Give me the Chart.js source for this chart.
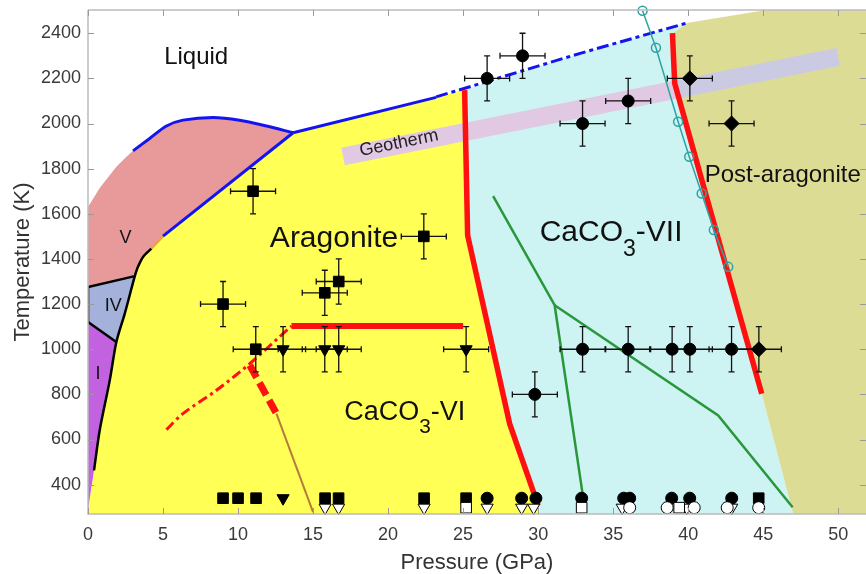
<!DOCTYPE html>
<html><head><meta charset="utf-8">
<script src="https://cdn.jsdelivr.net/npm/chart.js@4.4.1/dist/chart.umd.min.js"></script>
<style>html,body{margin:0;padding:0;background:#fff;overflow:hidden}</style>
</head><body>
<canvas id="c" width="866" height="574"></canvas>
<script>
// ---------- tick labels ----------
const xTickVals = [0,5,10,15,20,25,30,35,40,45,50];
const yTickVals = [400,600,800,1000,1200,1400,1600,1800,2000,2200,2400];

// ---------- phase fields [P (GPa), T (K)] ----------
const fieldAragonite = [[0,270],[0,290],[0.4,463],[0.78,641],[1.45,862],[1.89,1032],[2.45,1158],[2.9,1270],[3.12,1324],[3.33,1365],[3.67,1409],[4.22,1446],[5.0,1501],[13.67,1959],[25.1,2150],[25.3,1505],[28.1,670],[30.0,308],[30.15,270]];
const fieldVII = [[25.1,2150],[32.8,2311],[40.0,2447],[38.95,2400],[39.1,2178],[44.9,803],[47.0,270],[30.15,270],[30.0,308],[28.1,670],[25.3,1505]];
const fieldPost = [[38.95,2400],[40.0,2447],[45.2,2503],[51.85,2503],[51.85,270],[47.0,270],[44.9,803],[39.1,2178]];
const fieldV = [[0,1630],[0.78,1714],[1.89,1808],[2.56,1853],[3.0,1879],[4.11,1934],[5.23,1989],[6.33,2015],[8.33,2027],[10.1,2015],[11.9,1989],[13.67,1959],[5.0,1501],[4.22,1446],[3.67,1409],[3.33,1365],[3.12,1324],[0,1276]];
const fieldIV = [[0,1276],[3.12,1324],[2.9,1270],[2.45,1158],[1.89,1032],[0,1121]];
const fieldI = [[0,1121],[1.89,1032],[1.45,862],[0.78,641],[0.4,463],[0,290]];

// ---------- boundaries ----------
const meltCurveV = [[3.0,1879],[4.11,1934],[5.23,1989],[6.33,2015],[8.33,2027],[10.1,2015],[11.9,1989],[13.67,1959]];
const lineVArag = [[5.0,1501],[13.67,1959]];
const meltArag = [[13.67,1959],[23.2,2116]];
const meltDashed = [[23.2,2118],[32.8,2311],[40.0,2447]];
const calciteBoundary = [[0.4,463],[0.78,641],[1.45,862],[1.89,1032],[2.45,1158],[2.9,1270],[3.12,1324],[3.33,1365],[3.67,1409],[4.22,1446]];
const ivTop = [[0,1276],[3.12,1324]];
const ivBottom = [[0,1121],[1.89,1032]];
const ivLeft = [[0,1121],[0,1276]];
const orangeSeg = [[4.22,1446],[5.0,1501]];
const redAragVII = [[25.1,2148],[25.3,1505],[28.1,670],[30.0,308]];
const redVIIPost = [[38.95,2400],[39.1,2178],[44.9,803]];
const redVI = [[13.56,1103],[25.0,1103]];
const redDashDot = [[5.23,644],[6.33,715],[8.56,818],[10.78,936],[13.56,1103]];
const redThickDash = [[10.78,929],[12.56,715]];
const brownLine = [[12.56,715],[15.0,278]];
const greenA = [[27.0,1678],[31.1,1195],[32.96,360]];
const greenB = [[31.1,1195],[42.0,707],[46.96,300]];
const tealP = [36.96,37.85,39.33,40.07,40.9,41.71,42.67];
const tealT = [2500,2336,2008,1853,1690,1528,1365];
const geothermA = [[17.0,1854],[39.1,2149]];
const geothermB = [[39.1,2149],[50.0,2295]];

// ---------- experiments (with errors) ----------
const sqP = [11.0,9.0,11.18,22.38,15.78,16.71];
const sqT = [1700,1200,1000,1500,1250,1300];
const sqPerr = [1.5,1.5,1.5,1.5,1.5,1.5];
const sqTerr = [100,100,100,100,100,100];
const triP = [13.0,15.78,16.71,25.2];
const triT = [1000,1000,1000,1000];
const triPerr = [1.5,1.5,1.5,1.5];
const triTerr = [100,100,100,100];
const cirP = [26.6,28.96,32.96,36.0,29.78,32.96,36.0,38.93,40.11,42.89];
const cirT = [2200,2300,2000,2100,800,1000,1000,1000,1000,1000];
const cirPerr = [1.5,1.5,1.5,1.5,1.5,1.5,1.5,1.5,1.5,1.5];
const cirTerr = [100,100,100,100,100,100,100,100,100,100];
const diaP = [40.11,42.89,44.71];
const diaT = [2200,2000,1000];
const diaPerr = [1.5,1.5,1.5];
const diaTerr = [100,100,100];

// ---------- room-temperature runs (bottom row) ----------
const botSqP = [9.0,10.0,11.2,15.8,16.7,22.4,25.2,44.7];
const botTriP = [13.0];
const botCirP = [26.6,28.9,29.85,32.9,35.7,36.1,38.9,40.1,42.9];
const botFilledT = 340;
const openTriP = [15.8,16.7,22.4,26.6,28.9,29.7,35.6,39.9,42.9];
const openSqP = [25.2,32.9,39.4];
const openCirP = [36.1,38.6,40.4,42.6,44.7];
const botOpenT = 298;

// ================= build =================
const FONT = '"Liberation Sans", Arial, Helvetica, sans-serif';
Chart.defaults.font.family = FONT;
const pts = a => a.map(([x,y]) => ({x,y}));
const zip = (P,T) => P.map((p,i)=>({x:p,y:T[i]}));
const row = (P,t) => P.map(p=>({x:p,y:t}));
function poly(a,color,order){return {data:pts(a),showLine:true,fill:'shape',backgroundColor:color,borderColor:'transparent',borderWidth:0,pointRadius:0,order};}
function ln(a,color,w,order,extra){return Object.assign({data:pts(a),showLine:true,fill:false,borderColor:color,borderWidth:w,pointRadius:0,tension:0,order,borderCapStyle:'butt'},extra||{});}
function mk(data,style,r,bg,order,extra){return Object.assign({data,showLine:false,pointStyle:style,pointRadius:r,pointHoverRadius:r,backgroundColor:bg,borderColor:'#000',borderWidth:1,order,clip:false},extra||{});}

const datasets = [
  poly(fieldAragonite,'#ffff55',200),
  poly(fieldVII,'#cdf3f3',199),
  poly(fieldPost,'#dddc95',198),
  poly(fieldV,'#e89a9a',197),
  poly(fieldIV,'#a4b2db',196),
  poly(fieldI,'#c262e0',195),
  ln(geothermA,'#e1c8e3',18,150),
  ln(geothermB,'#cbcae3',18,149),
  ln(orangeSeg,'#f0a040',2.5,120),
  ln(meltCurveV,'#1414f0',3,110,{tension:0.3}),
  ln(lineVArag,'#1414f0',3,109),
  ln(meltArag,'#1414f0',3,108),
  ln(meltDashed,'#1414f0',3,107,{borderDash:[12,4,4,4]}),
  ln(calciteBoundary,'#000',2.5,106,{tension:0.3}),
  ln(ivTop,'#000',2.5,105),
  ln(ivBottom,'#000',2.5,104),
  ln(ivLeft,'#000',2.5,103),
  ln(brownLine,'#b87a3c',2,102),
  ln(greenA,'#28983a',2.5,101),
  ln(greenB,'#28983a',2.5,100),
  ln(redDashDot,'#ff1010',3,95,{borderDash:[10,4,3,4],tension:0.3}),
  ln(redThickDash,'#ff1010',7,94,{borderDash:[14,6]}),
  ln(redVI,'#ff1010',6,93),
  ln(redAragVII,'#ff1010',5.5,92),
  ln(redVIIPost,'#ff1010',5.5,91),
  {data:zip(tealP,tealT),showLine:true,fill:false,borderColor:'#2ea3a3',borderWidth:1.5,pointStyle:'circle',pointRadius:4.5,pointBackgroundColor:'rgba(0,0,0,0)',pointBorderColor:'#2ea3a3',pointBorderWidth:1.5,order:80,clip:false},
  mk(zip(sqP,sqT),'rect',7.5,'#000',60,{errX:sqPerr,errY:sqTerr}),
  mk(zip(triP,triT),'triangle',7,'#000',59,{rotation:180,errX:triPerr,errY:triTerr}),
  mk(zip(cirP,cirT),'circle',6,'#000',58,{errX:cirPerr,errY:cirTerr}),
  mk(zip(diaP,diaT),'rectRot',7.5,'#000',57,{errX:diaPerr,errY:diaTerr}),
  mk(row(botSqP,botFilledT),'rect',7.5,'#000',50),
  mk(row(botTriP,botFilledT),'triangle',7,'#000',49,{rotation:180}),
  mk(row(botCirP,botFilledT),'circle',6,'#000',48),
  mk(row(openTriP,botOpenT),'triangle',7,'#fff',40,{rotation:180}),
  mk(row(openSqP,botOpenT),'rect',7.5,'#fff',39),
  mk(row(openCirP,botOpenT),'circle',6,'#fff',38)
];

// error bars drawn right before their marker dataset
const errorBars = {
  id:'errorBars',
  beforeDatasetDraw(chart,args){
    const ds = chart.data.datasets[args.index];
    if(!ds.errX) return;
    const {ctx, scales:{x,y}} = chart;
    ctx.save();
    ctx.strokeStyle='#111'; ctx.lineWidth=1.3;
    ds.data.forEach((d,i)=>{
      const px=x.getPixelForValue(d.x), py=y.getPixelForValue(d.y);
      const x1=x.getPixelForValue(d.x-ds.errX[i]), x2=x.getPixelForValue(d.x+ds.errX[i]);
      const y1=y.getPixelForValue(d.y-ds.errY[i]), y2=y.getPixelForValue(d.y+ds.errY[i]);
      ctx.beginPath();
      ctx.moveTo(x1,py); ctx.lineTo(x2,py);
      ctx.moveTo(x1,py-3); ctx.lineTo(x1,py+3);
      ctx.moveTo(x2,py-3); ctx.lineTo(x2,py+3);
      ctx.moveTo(px,y1); ctx.lineTo(px,y2);
      ctx.moveTo(px-3,y1); ctx.lineTo(px+3,y1);
      ctx.moveTo(px-3,y2); ctx.lineTo(px+3,y2);
      ctx.stroke();
    });
    ctx.restore();
  }
};

// axes frame with inward ticks
const frame = {
  id:'frame',
  afterDatasetsDraw(chart){
    const {ctx, chartArea:a, scales:{x,y}} = chart;
    ctx.save();
    ctx.strokeStyle='#bcbcbc'; ctx.lineWidth=1.5;
    ctx.beginPath();
    ctx.moveTo(a.left,a.top); ctx.lineTo(a.right,a.top);
    ctx.moveTo(a.left,a.top); ctx.lineTo(a.left,a.bottom); ctx.lineTo(a.right,a.bottom);
    ctx.stroke();
    ctx.strokeStyle='#9a9a9a'; ctx.lineWidth=1;
    ctx.beginPath();
    xTickVals.forEach(v=>{const p=Math.round(x.getPixelForValue(v))+0.5;
      ctx.moveTo(p,a.bottom); ctx.lineTo(p,a.bottom-6);
      ctx.moveTo(p,a.top); ctx.lineTo(p,a.top+6);});
    yTickVals.forEach(v=>{const p=Math.round(y.getPixelForValue(v))+0.5;
      ctx.moveTo(a.left,p); ctx.lineTo(a.left+6,p);
      ctx.moveTo(a.right,p); ctx.lineTo(a.right-6,p);});
    ctx.stroke();
    ctx.restore();
  }
};

// text annotations (positions in data units)
const notes = [
  {parts:[['Liquid',1,0]], p:7.21, t:2262, size:24, align:'center'},
  {parts:[['V',1,0]], p:2.5, t:1471, size:18, align:'center'},
  {parts:[['IV',1,0]], p:1.68, t:1170, size:18, align:'center'},
  {parts:[['I',1,0]], p:0.67, t:870, size:18, align:'center'},
  {parts:[['Aragonite',1,0]], p:16.4, t:1453, size:30, align:'center'},
  {parts:[['Post-aragonite',1,0]], p:46.3, t:1742, size:24, align:'center'},
  {parts:[['CaCO',1,0],['3',0.77,0.5],['-VII',1,0]], p:30.1, t:1480, size:30, align:'left'},
  {parts:[['CaCO',1,0],['3',0.77,0.5],['-VI',1,0]], p:17.07, t:688, size:27, align:'left'}
];
const labels = {
  id:'labels',
  afterDatasetsDraw(chart){
    const {ctx, scales:{x,y}} = chart;
    ctx.save();
    ctx.fillStyle='#111'; ctx.textBaseline='alphabetic'; ctx.textAlign='left';
    notes.forEach(n=>{
      const widths=n.parts.map(([s,k])=>{ctx.font=`${n.size*k}px ${FONT}`;return ctx.measureText(s).width;});
      const total=widths.reduce((a,b)=>a+b,0);
      let cx=x.getPixelForValue(n.p); const cy=y.getPixelForValue(n.t);
      if(n.align==='center') cx-=total/2;
      n.parts.forEach(([s,k,dy],i)=>{ctx.font=`${n.size*k}px ${FONT}`;ctx.fillText(s,cx,cy+dy*n.size);cx+=widths[i];});
    });
    // Geotherm along the band
    const x1=x.getPixelForValue(geothermA[0][0]), y1=y.getPixelForValue(geothermA[0][1]);
    const x2=x.getPixelForValue(geothermB[1][0]), y2=y.getPixelForValue(geothermB[1][1]);
    const ang=Math.atan2(y2-y1,x2-x1);
    ctx.translate(x.getPixelForValue(20.73), y.getPixelForValue(1913));
    ctx.rotate(ang);
    ctx.font=`18px ${FONT}`; ctx.textAlign='center'; ctx.textBaseline='middle'; ctx.fillStyle='#222';
    ctx.fillText('Geotherm',0,0);
    ctx.restore();
  }
};

new Chart(document.getElementById('c'),{
  type:'scatter',
  data:{datasets},
  options:{
    responsive:false, animation:false, devicePixelRatio:1,
    layout:{autoPadding:false,padding:{top:10,right:0,bottom:0,left:0}},
    plugins:{legend:{display:false}, tooltip:{enabled:false}},
    scales:{
      x:{type:'linear',min:0,max:51.85,
        afterBuildTicks:s=>{s.ticks=xTickVals.map(v=>({value:v}));},
        ticks:{callback:v=>String(v),font:{size:18},color:'#3a3a3a',padding:10,maxRotation:0,autoSkip:false},
        grid:{display:false,drawTicks:false},border:{display:false},
        title:{display:true,text:'Pressure (GPa)',font:{size:22,lineHeight:1},color:'#333',padding:{top:0,bottom:0}},
        afterFit:s=>{s.height=60;s.paddingLeft=0;s.paddingRight=0;s.paddingTop=0;s.paddingBottom=0;}},
      y:{type:'linear',min:270,max:2503,
        afterBuildTicks:s=>{s.ticks=yTickVals.map(v=>({value:v}));},
        ticks:{callback:v=>String(v),font:{size:18},color:'#3a3a3a',padding:7,autoSkip:false},
        grid:{display:false,drawTicks:false},border:{display:false},
        title:{display:true,text:'Temperature (K)',font:{size:22,lineHeight:1},color:'#333',padding:{top:12,bottom:0}},
        afterFit:s=>{s.width=88;s.paddingLeft=0;s.paddingRight=0;s.paddingTop=0;s.paddingBottom=0;}}
    }
  },
  plugins:[errorBars,frame,labels]
});
</script>
</body></html>
